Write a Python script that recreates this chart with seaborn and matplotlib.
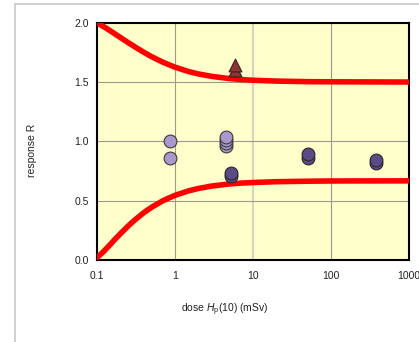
import numpy as np
import pandas as pd
import matplotlib
matplotlib.use("Agg")
import matplotlib.pyplot as plt
from matplotlib.lines import Line2D
from matplotlib.ticker import FixedLocator, FixedFormatter, NullLocator
import seaborn as sns

# ---- data ----
curve_dose = [0.1, 0.11, 0.12, 0.13, 0.15, 0.17, 0.2, 0.25, 0.3, 0.4, 0.5, 0.7, 1, 1.5,
              2, 3, 5, 7, 10, 20, 50, 100, 1000]
upper_limit = [2.0, 1.984, 1.969, 1.955, 1.929, 1.905, 1.875, 1.833, 1.80, 1.75, 1.714,
               1.667, 1.625, 1.588, 1.568, 1.547, 1.529, 1.521, 1.515, 1.508, 1.503, 1.502, 1.500]
lower_limit = [0.02, 0.045, 0.068, 0.092, 0.135, 0.175, 0.222, 0.286, 0.333, 0.40, 0.444,
               0.50, 0.545, 0.583, 0.603, 0.624, 0.641, 0.648, 0.653, 0.660, 0.664, 0.666, 0.667]

light_dose = [0.86, 0.86, 4.5, 4.5, 4.5, 4.5]
light_resp = [1.00, 0.86, 0.96, 0.985, 1.01, 1.04]

dark_dose = [5.3, 5.3, 51, 51, 374, 374]
dark_resp = [0.71, 0.735, 0.86, 0.89, 0.82, 0.845]

tri_dose = [5.9, 5.9]
tri_resp = [1.60, 1.64]

xticks = [0.1, 1, 10, 100, 1000]
xtick_labels = ["0.1", "1", "10", "100", "1000"]
yticks = [0.0, 0.5, 1.0, 1.5, 2.0]
ytick_labels = ["0.0", "0.5", "1.0", "1.5", "2.0"]

sns.set_style("white")
plt.rcParams['font.family'] = ['Liberation Sans', 'DejaVu Sans']
plt.rcParams['mathtext.fontset'] = 'custom'
plt.rcParams['mathtext.rm'] = 'Liberation Sans'
plt.rcParams['mathtext.it'] = 'Liberation Sans:italic'

W, H = 419, 342
fig = plt.figure(figsize=(W / 100, H / 100), dpi=100)
fig.patch.set_facecolor("white")
ax = fig.add_axes([97 / W, 1 - 260 / H, (409 - 97) / W, (260 - 22.7) / H])
ax.set_facecolor("#ffffcc")

# gridlines
for x in [1, 100]:
    ax.axvline(x, color="#9a9a90", lw=0.8, zorder=1)
ax.axvline(10, color="#d6d6bc", lw=1.6, zorder=1)
for y in [0.5, 1.0, 1.5]:
    ax.axhline(y, color="#9a9a90", lw=0.8, zorder=1)

curves = pd.DataFrame({"dose": curve_dose, "upper": upper_limit, "lower": lower_limit})
sns.lineplot(data=curves, x="dose", y="upper", ax=ax, color="#ff0000", lw=4, zorder=3)
sns.lineplot(data=curves, x="dose", y="lower", ax=ax, color="#ff0000", lw=4, zorder=3)

light = pd.DataFrame({"dose": light_dose, "R": light_resp})
dark = pd.DataFrame({"dose": dark_dose, "R": dark_resp})
tri = pd.DataFrame({"dose": tri_dose, "R": tri_resp})
sns.scatterplot(data=light, x="dose", y="R", ax=ax, color="#a898cc", edgecolor="#3a3a3a",
                linewidth=0.8, s=85, zorder=4)
sns.scatterplot(data=dark, x="dose", y="R", ax=ax, color="#5a4a86", edgecolor="#2a2a2a",
                linewidth=0.8, s=85, zorder=4)
sns.scatterplot(data=tri, x="dose", y="R", ax=ax, color="#8b3535", edgecolor="#3a2020",
                linewidth=0.8, s=85, marker="^", zorder=4)

ax.set_xscale("log")
ax.set_xlim(0.1, 1000)
ax.set_ylim(0, 2.0)
ax.xaxis.set_major_locator(FixedLocator(xticks))
ax.xaxis.set_major_formatter(FixedFormatter(xtick_labels))
ax.xaxis.set_minor_locator(NullLocator())
ax.set_yticks(yticks)
ax.set_yticklabels(ytick_labels)
ax.tick_params(axis="both", labelsize=7.5, colors="#000000", length=3, width=0.8,
               direction="out", pad=3)
ax.tick_params(axis="x", pad=5)
for lab in ax.get_xticklabels() + ax.get_yticklabels():
    lab.set_color("#222222")
for sp in ax.spines.values():
    sp.set_visible(True)
    sp.set_color("#000000")
    sp.set_linewidth(1.5)
ax.set_xlabel("")
ax.set_ylabel("")

fig.text(225 / W, 1 - 310 / H, r"dose $\mathit{H}_\mathrm{p}$(10) (mSv)", ha="center", va="center",
         fontsize=7.5, color="#222222")
fig.text(32 / W, 1 - 150 / H, "response R", ha="center", va="center", rotation=90,
         fontsize=7.5, color="#222222")

# outer chart border (gray)
fig.add_artist(Line2D([14.5 / W, 14.5 / W], [0, 1 - 4 / H], color="#c8c8c8", lw=1.2))
fig.add_artist(Line2D([14.5 / W, 1], [1 - 4 / H, 1 - 4 / H], color="#c8c8c8", lw=1.2))

fig.savefig("out.png", dpi=100)
